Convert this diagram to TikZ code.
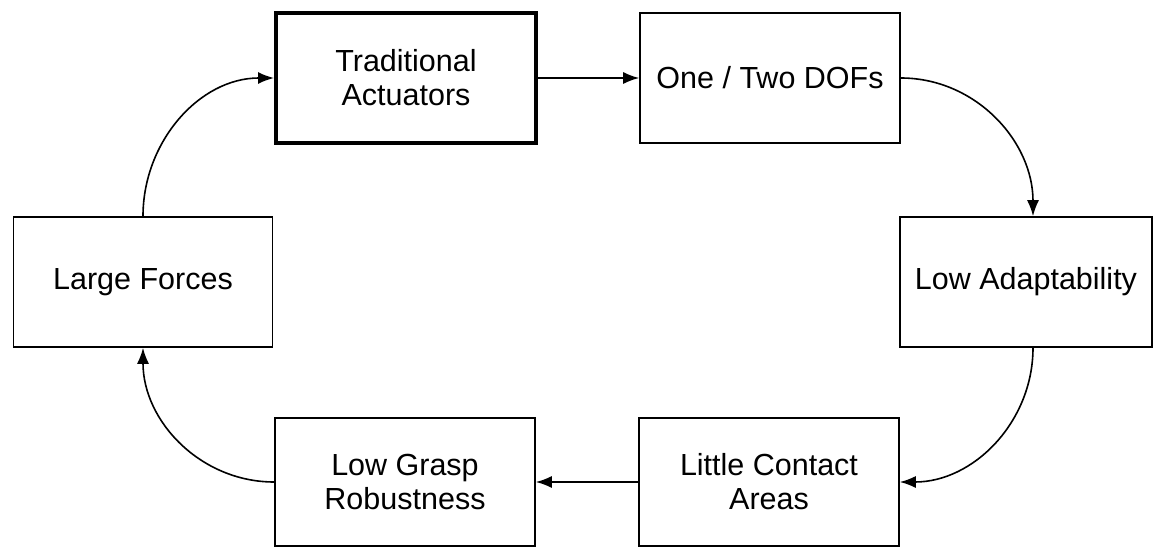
\documentclass[tikz,border=0pt]{standalone}
\usepackage{fontspec}
\setmainfont{Liberation Sans}
\usetikzlibrary{arrows.meta,positioning}

\begin{document}
\begin{tikzpicture}[x=1pt,y=1pt]
  \tikzset{
  	stage/.style={draw, line width=1.6pt, align=center, inner sep=0pt,
  	  minimum width=260pt, minimum height=130pt,
  	  font=\fontsize{30.5}{34}\selectfont},
  	start/.style={stage, line width=4pt},
  	flow/.style={line width=1.6pt, -{Latex[length=16pt,width=12pt]}},
  }
  \useasboundingbox (0,0) rectangle (1157,547);

  % The cycle, clockwise from the top.
  \node[start] (trad) at (406,469) {Traditional\\Actuators};
  \node[stage] (dofs) at (770,469) {One / Two DOFs};
  \node[stage, minimum width=252pt] (adapt) at (1026,265) {Low Adaptability};
  \node[stage, minimum height=128pt] (contact) at (769,65) {Little Contact\\Areas};
  \node[stage, minimum height=128pt] (grasp) at (405,65) {Low Grasp\\Robustness};
  \node[stage, minimum width=259pt] (forces) at (143,265) {Large Forces};

  % Connectors between the stages.
  \draw[flow] (trad.east) -- (dofs.west);
  \draw[flow] (dofs.east) to[out=0, in=90] ([xshift=7pt]adapt.north);
  \draw[flow] ([xshift=7pt]adapt.south) to[out=-90, in=0] (contact.east);
  \draw[flow] (contact.west) -- (grasp.east);
  \draw[flow] (grasp.west) to[out=180, in=-90] (forces.south);
  \draw[flow] (forces.north) to[out=90, in=180] (trad.west);
\end{tikzpicture}
\end{document}
